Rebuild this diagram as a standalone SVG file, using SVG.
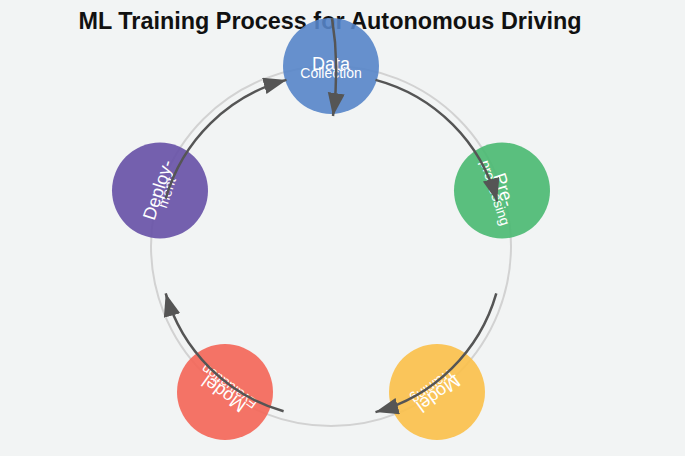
<svg xmlns="http://www.w3.org/2000/svg" width="685" height="456" viewBox="0 0 685 456">
<style>
.title{font-family:"Liberation Sans",Arial,sans-serif;font-weight:bold;font-size:23.4px;fill:#111;text-anchor:middle}
.node circle{opacity:0.9}
.l1{font-family:"Liberation Sans",Arial,sans-serif;font-size:18px;fill:#fff;text-anchor:middle}
.l2{font-family:"Liberation Sans",Arial,sans-serif;font-size:14px;fill:#fff;text-anchor:middle}
.ring{fill:none;stroke:#d2d2d2;stroke-width:2}
.conn path{fill:none;stroke:#555;stroke-width:2.5;marker-end:url(#ah)}
</style>
<defs>
<marker id="ah" markerUnits="userSpaceOnUse" markerWidth="25" markerHeight="18" refX="23" refY="8.5" orient="auto">
<path d="M0,0 L23,8.5 L0,17 Z" fill="#555"/>
</marker>
</defs>
<rect width="685" height="456" fill="#f2f4f4"/>
<circle class="ring" cx="331" cy="246" r="180"/>
<text class="title" x="330" y="29">ML Training Process for Autonomous Driving</text>
<g id="node-data" class="node">
<circle cx="331" cy="66" r="48" fill="#5685c9"/>
<g transform="translate(331,66)"><text class="l1" y="4">Data</text><text class="l2" y="12">Collection</text></g>
</g>
<g id="node-preprocessing" class="node">
<circle cx="502" cy="190.5" r="48" fill="#49b971"/>
<g transform="translate(502,190.5) rotate(72)"><text class="l1" y="4">Pre-</text><text class="l2" y="12">processing</text></g>
</g>
<g id="node-training" class="node">
<circle cx="437" cy="392" r="48" fill="#fbc049"/>
<g transform="translate(437,392) rotate(144)"><text class="l1" y="4">Model</text><text class="l2" y="12">Training</text></g>
</g>
<g id="node-evaluation" class="node">
<circle cx="225" cy="392" r="48" fill="#f46557"/>
<g transform="translate(225,392) rotate(216)"><text class="l1" y="4">Model</text><text class="l2" y="12">Evaluation</text></g>
</g>
<g id="node-deployment" class="node">
<circle cx="160" cy="190.5" r="48" fill="#6650a6"/>
<g transform="translate(160,190.5) rotate(288)"><text class="l1" y="4">Deploy-</text><text class="l2" y="12">ment</text></g>
</g>
<g id="connectors" class="conn">
<path d="M375.5,79.9 A172,172 0 0 1 497.1,201.5"/>
<path d="M496.3,293.4 A172,172 0 0 1 375.5,412.1"/>
<path d="M332,18 Q340,67 333,116"/>
<path d="M283.6,411.3 A172,172 0 0 1 165.7,293.4"/>
<path d="M165.7,198.6 A172,172 0 0 1 286.5,79.9"/>
</g>
</svg>
